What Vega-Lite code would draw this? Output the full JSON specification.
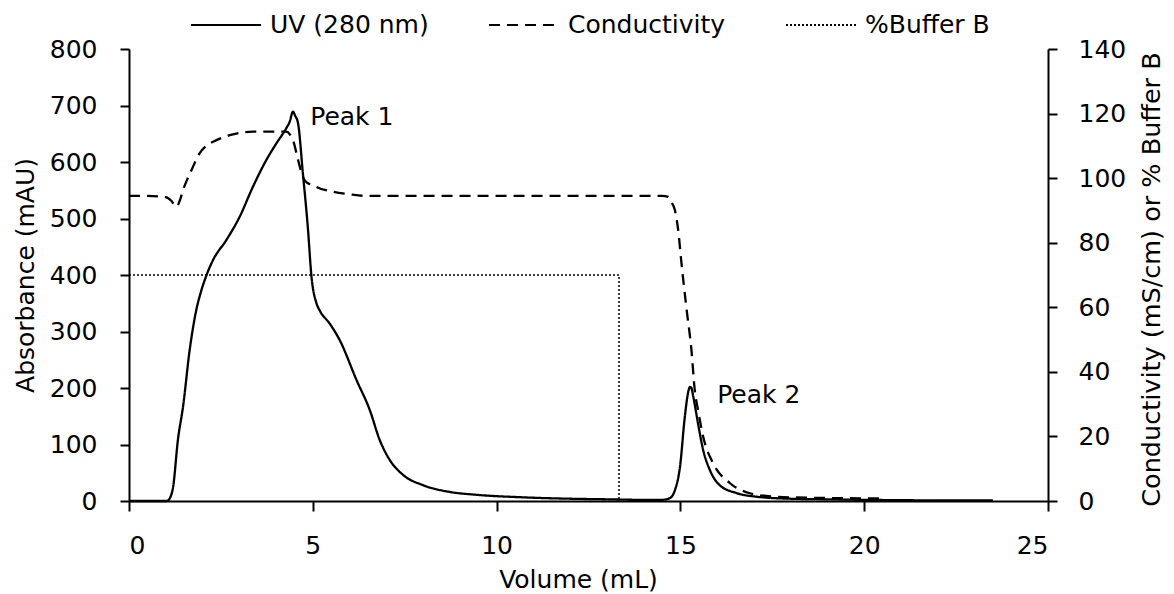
{
  "$schema": "https://vega.github.io/schema/vega-lite/v6.json",
  "width": 919,
  "height": 452,
  "autosize": {"type": "none"},
  "padding": {"left": 129, "top": 49, "right": 126, "bottom": 93},
  "background": "white",
  "config": {
    "view": {"stroke": null},
    "font": "DejaVu Sans",
    "axis": {
      "grid": false,
      "domainColor": "black",
      "domainWidth": 2,
      "tickColor": "black",
      "tickWidth": 2,
      "labelColor": "black",
      "titleColor": "black",
      "labelFont": "DejaVu Sans",
      "titleFont": "DejaVu Sans",
      "labelFontSize": 25,
      "titleFontSize": 25,
      "titleFontWeight": "normal"
    }
  },
  "datasets": {
    "uv": [
      {"v": 0, "a": 0}, {"v": 0.5, "a": 0}, {"v": 1.0, "a": 0}, {"v": 1.06, "a": 1}, {"v": 1.12, "a": 6},
      {"v": 1.2, "a": 25}, {"v": 1.33, "a": 108}, {"v": 1.47, "a": 167}, {"v": 1.65, "a": 267},
      {"v": 1.83, "a": 338}, {"v": 1.97, "a": 373}, {"v": 2.11, "a": 400}, {"v": 2.29, "a": 427},
      {"v": 2.65, "a": 462}, {"v": 3.01, "a": 503}, {"v": 3.37, "a": 556}, {"v": 3.74, "a": 604},
      {"v": 4.01, "a": 633}, {"v": 4.28, "a": 660}, {"v": 4.37, "a": 671}, {"v": 4.46, "a": 689},
      {"v": 4.52, "a": 682}, {"v": 4.6, "a": 668}, {"v": 4.73, "a": 580}, {"v": 4.87, "a": 480},
      {"v": 4.96, "a": 400}, {"v": 5.1, "a": 350}, {"v": 5.19, "a": 337}, {"v": 5.46, "a": 314},
      {"v": 5.73, "a": 285}, {"v": 6.19, "a": 214}, {"v": 6.55, "a": 161}, {"v": 6.82, "a": 108},
      {"v": 7.09, "a": 73}, {"v": 7.46, "a": 46}, {"v": 8.0, "a": 28}, {"v": 8.73, "a": 16},
      {"v": 9.45, "a": 11}, {"v": 10.72, "a": 6.5}, {"v": 12, "a": 4}, {"v": 13, "a": 3},
      {"v": 14, "a": 2}, {"v": 14.5, "a": 2}, {"v": 14.71, "a": 5}, {"v": 14.85, "a": 19},
      {"v": 14.99, "a": 61}, {"v": 15.12, "a": 149}, {"v": 15.22, "a": 195}, {"v": 15.26, "a": 202},
      {"v": 15.3, "a": 200}, {"v": 15.35, "a": 185}, {"v": 15.48, "a": 137}, {"v": 15.62, "a": 90},
      {"v": 15.8, "a": 55}, {"v": 16.07, "a": 28}, {"v": 16.53, "a": 14}, {"v": 17.07, "a": 7.6},
      {"v": 18, "a": 4}, {"v": 19, "a": 3}, {"v": 20, "a": 2}, {"v": 21, "a": 1.5}, {"v": 22, "a": 1},
      {"v": 23.5, "a": 1}
    ],
    "cond": [
      {"v": 0, "c": 94.5}, {"v": 0.5, "c": 94.5}, {"v": 1.0, "c": 94.1}, {"v": 1.15, "c": 93},
      {"v": 1.29, "c": 91.1}, {"v": 1.38, "c": 93}, {"v": 1.47, "c": 96.3}, {"v": 1.58, "c": 99.5},
      {"v": 1.7, "c": 102.5}, {"v": 1.92, "c": 107.7}, {"v": 2.1, "c": 110}, {"v": 2.29, "c": 111.3},
      {"v": 2.74, "c": 113.3}, {"v": 3.37, "c": 114.4}, {"v": 4.01, "c": 114.4}, {"v": 4.28, "c": 114.4},
      {"v": 4.38, "c": 113.5}, {"v": 4.46, "c": 111.8}, {"v": 4.6, "c": 105.6}, {"v": 4.73, "c": 100.4},
      {"v": 4.85, "c": 98.5}, {"v": 5.01, "c": 97.9}, {"v": 5.1, "c": 97.3}, {"v": 5.55, "c": 95.8},
      {"v": 6.0, "c": 95}, {"v": 6.46, "c": 94.5}, {"v": 10, "c": 94.5}, {"v": 14.5, "c": 94.5},
      {"v": 14.67, "c": 94.2}, {"v": 14.76, "c": 92.5}, {"v": 14.85, "c": 90.1}, {"v": 14.94, "c": 83.9},
      {"v": 15.03, "c": 73.6}, {"v": 15.17, "c": 59.2}, {"v": 15.3, "c": 46.8}, {"v": 15.39, "c": 34.4},
      {"v": 15.48, "c": 28.2}, {"v": 15.62, "c": 19.9}, {"v": 15.89, "c": 11.7}, {"v": 16.35, "c": 5.5},
      {"v": 16.89, "c": 2.4}, {"v": 17.52, "c": 1.4}, {"v": 18.5, "c": 1}, {"v": 20.4, "c": 0.8}
    ],
    "buf": [
      {"i": 1, "v": 0, "c": 70}, {"i": 2, "v": 13.33, "c": 70}, {"i": 3, "v": 13.33, "c": 0}
    ],
    "peaks": [
      {"v": 4.93, "a": 679, "label": "Peak 1"},
      {"v": 16.0, "a": 188, "label": "Peak 2"}
    ]
  },
  "layer": [
    {
      "layer": [
        {
          "data": {"name": "uv"},
          "mark": {"type": "line", "color": "black", "strokeWidth": 2.3, "interpolate": "monotone"},
          "encoding": {
            "x": {
              "field": "v", "type": "quantitative",
              "scale": {"domain": [0, 25], "nice": false},
              "axis": {
                "values": [0, 5, 10, 15, 20, 25], "title": "Volume (mL)",
                "tickSize": 10, "labelPadding": 22,
                "titleBaseline": "alphabetic", "titleY": 86, "titleX": 449
              }
            },
            "y": {
              "field": "a", "type": "quantitative",
              "scale": {"domain": [0, 800], "nice": false},
              "axis": {
                "values": [0, 100, 200, 300, 400, 500, 600, 700, 800],
                "title": "Absorbance (mAU)", "tickSize": 9, "labelPadding": 23,
                "titleAngle": 270, "titleBaseline": "alphabetic", "titleAlign": "center",
                "titleX": -96, "titleY": 226
              }
            },
            "strokeDash": {
              "datum": "UV (280 nm)", "type": "nominal",
              "scale": {
                "domain": ["UV (280 nm)", "Conductivity", "%Buffer B"],
                "range": [[1, 0], [11, 7], [2, 2]]
              },
              "legend": {
                "title": null, "orient": "none", "legendX": 61, "legendY": -60,
                "direction": "horizontal", "symbolType": "stroke", "symbolSize": 4900,
                "symbolStrokeWidth": 2, "symbolStrokeColor": "black",
                "labelFont": "DejaVu Sans", "labelFontSize": 25, "labelColor": "black",
                "labelOffset": 8, "columnPadding": 56, "padding": 0, "labelLimit": 0
              }
            }
          }
        },
        {
          "data": {"name": "peaks"},
          "mark": {"type": "text", "align": "left", "baseline": "middle", "fontSize": 25, "font": "DejaVu Sans", "color": "black"},
          "encoding": {
            "x": {"field": "v", "type": "quantitative"},
            "y": {"field": "a", "type": "quantitative", "title": "Absorbance (mAU)"},
            "text": {"field": "label"}
          }
        }
      ]
    },
    {
      "layer": [
        {
          "data": {"name": "cond"},
          "mark": {"type": "line", "color": "black", "strokeWidth": 2.3, "interpolate": "monotone"},
          "encoding": {
            "x": {"field": "v", "type": "quantitative"},
            "y": {
              "field": "c", "type": "quantitative",
              "scale": {"domain": [0, 140], "nice": false},
              "axis": {
                "orient": "right", "values": [0, 20, 40, 60, 80, 100, 120, 140],
                "title": "Conductivity (mS/cm) or % Buffer B", "tickSize": 9, "labelPadding": 21,
                "titleFontSize": 25.5,
                "titleAngle": 270, "titleBaseline": "alphabetic", "titleAlign": "center",
                "titleX": 111, "titleY": 230
              }
            },
            "strokeDash": {"datum": "Conductivity", "type": "nominal"}
          }
        },
        {
          "data": {"name": "buf"},
          "mark": {"type": "line", "color": "black", "strokeWidth": 1.5},
          "encoding": {
            "x": {"field": "v", "type": "quantitative"},
            "y": {"field": "c", "type": "quantitative", "title": "Conductivity (mS/cm) or % Buffer B"},
            "order": {"field": "i", "type": "quantitative"},
            "strokeDash": {"datum": "%Buffer B", "type": "nominal"}
          }
        }
      ]
    }
  ],
  "resolve": {"scale": {"y": "independent"}}
}
